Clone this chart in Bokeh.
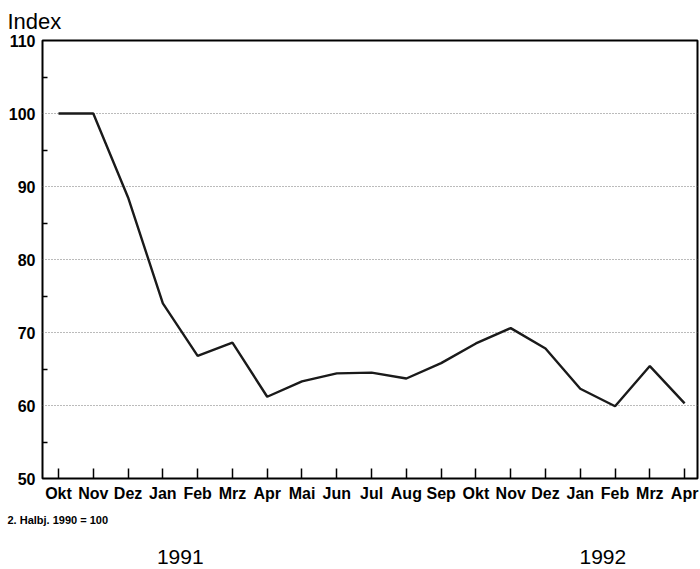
from bokeh.plotting import figure
from bokeh.models import Range1d, FixedTicker, LinearAxis, Title
from bokeh.embed import file_html
from bokeh.resources import INLINE

months = ["Okt", "Nov", "Dez", "Jan", "Feb", "Mrz", "Apr", "Mai", "Jun", "Jul",
          "Aug", "Sep", "Okt", "Nov", "Dez", "Jan", "Feb", "Mrz", "Apr"]
index_values = [100.0, 100.0, 88.5, 74.0, 66.8, 68.6, 61.2, 63.3, 64.4, 64.5,
                63.7, 65.8, 68.5, 70.6, 67.8, 62.3, 59.9, 65.4, 60.3]
y_ticks = [50, 60, 70, 80, 90, 100, 110]
y_minor = [55, 65, 75, 85, 95, 105]
years = ["1991", "1992"]
year_pos = [3.5, 15.65]

FONT = "Liberation Sans"
x = list(range(len(months)))

p = figure(width=700, height=569, output_backend="svg", toolbar_location=None,
           x_range=Range1d(-0.46, 18.37), y_range=Range1d(50, 110),
           min_border_left=42, min_border_right=3, min_border_top=40, min_border_bottom=91)
p.background_fill_color = "white"
p.border_fill_color = "white"
p.outline_line_color = "black"
p.outline_line_width = 2

p.line(x, index_values, line_color="#1a1a1a", line_width=2.4)

# bottom month axis
xa = p.xaxis[0]
xa.ticker = FixedTicker(ticks=x)
xa.major_label_overrides = {i: m for i, m in enumerate(months)}
xa.major_tick_in = 10
xa.major_tick_out = 0
xa.minor_tick_in = 0
xa.minor_tick_out = 0
xa.major_tick_line_color = "black"
xa.major_tick_line_width = 1.5
xa.axis_line_color = None
xa.major_label_text_font = FONT
xa.major_label_text_font_style = "bold"
xa.major_label_text_font_size = "16px"
xa.major_label_text_color = "black"
xa.major_label_standoff = 6

ya = p.yaxis[0]
ya.ticker = FixedTicker(ticks=y_ticks, minor_ticks=y_minor)
ya.major_tick_in = 0
ya.major_tick_out = 0
ya.minor_tick_in = 5
ya.minor_tick_out = 0
ya.minor_tick_line_color = "black"
ya.minor_tick_line_width = 1.5
ya.axis_line_color = None
ya.major_label_text_font = FONT
ya.major_label_text_font_style = "bold"
ya.major_label_text_font_size = "16px"
ya.major_label_text_color = "black"
ya.major_label_standoff = 7

p.xgrid.grid_line_color = None
p.ygrid.ticker = FixedTicker(ticks=[60, 70, 80, 90, 100])
p.ygrid.grid_line_color = "#777777"
p.ygrid.grid_line_dash = "1 2"
p.ygrid.grid_line_width = 1

# title "Index"
p.add_layout(Title(text="Index", text_font=FONT, text_font_size="22px",
                   text_font_style="normal", text_color="black",
                   align="left", vertical_align="top", offset=-35, standoff=10), "above")

# subtitle below month labels
p.add_layout(Title(text="2. Halbj. 1990 = 100", text_font=FONT, text_font_size="11px",
                   text_font_style="bold", text_color="black",
                   align="left", offset=-35, standoff=14), "below")

# year axis
ya2 = LinearAxis(ticker=FixedTicker(ticks=year_pos),
                 major_label_overrides={xp: yr for xp, yr in zip(year_pos, years)})
ya2.axis_line_color = None
ya2.major_tick_line_color = None
ya2.minor_tick_line_color = None
ya2.major_label_text_font = FONT
ya2.major_label_text_font_size = "21px"
ya2.major_label_text_color = "black"
ya2.major_label_standoff = 11
p.add_layout(ya2, "below")

open("out.html", "w").write(file_html(p, INLINE))
